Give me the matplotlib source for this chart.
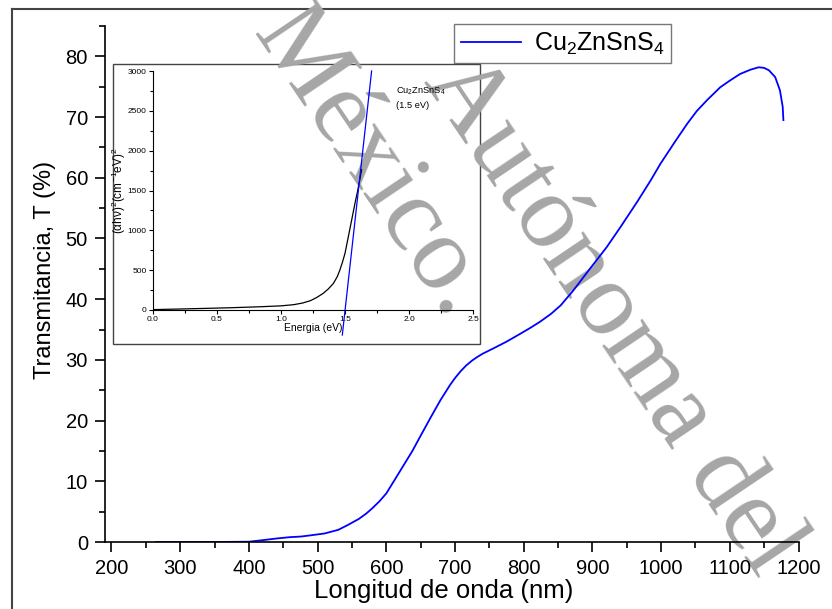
import matplotlib
matplotlib.use('Agg')
import matplotlib.pyplot as plt
from matplotlib.lines import Line2D
from matplotlib.patches import Rectangle
from matplotlib.ticker import MultipleLocator, FormatStrFormatter

plt.rcParams['font.family'] = ['Liberation Sans', 'DejaVu Sans']
plt.rcParams['font.serif'] = ['Liberation Serif', 'DejaVu Serif']
plt.rcParams['mathtext.fontset'] = 'custom'
plt.rcParams['mathtext.rm'] = 'Liberation Sans'
plt.rcParams['mathtext.it'] = 'Liberation Sans'

# transmittance spectrum
wavelength = [265, 300, 350, 400, 420, 442, 460, 476, 490, 510, 530, 544, 560, 571,
              580, 590, 600, 612, 625, 638, 649, 665, 679, 693, 700, 708, 716, 725, 732,
              740, 748, 756, 775, 795, 810, 824, 840, 854, 872, 897, 921, 941, 965, 985,
              999, 1020, 1038, 1052, 1067, 1086, 1100, 1115, 1130, 1142, 1150, 1157, 1166,
              1173, 1177, 1178]
transmit = [0, 0, 0, 0.05, 0.3, 0.6, 0.8, 0.9, 1.1, 1.4, 2.0, 2.8, 3.8, 4.7,
            5.6, 6.7, 8.0, 10.2, 12.6, 15.0, 17.3, 20.6, 23.4, 25.9, 27.0, 28.1, 29.05, 29.9, 30.45,
            31.0, 31.45, 31.9, 33.0, 34.3, 35.3, 36.3, 37.6, 39.0, 41.4, 45.1, 48.6, 51.9, 56.0, 59.6,
            62.3, 65.9, 68.9, 71.0, 72.8, 74.9, 76.0, 77.1, 77.8, 78.2, 78.1, 77.7, 76.6,
            74.4, 71.7, 69.5]

# Tauc plot for the inset
energy = [0.0, 0.2, 0.4, 0.6, 0.84, 1.0, 1.1, 1.17, 1.23, 1.28, 1.33, 1.37, 1.41, 1.44,
          1.46, 1.48, 1.50, 1.526, 1.552, 1.578, 1.60, 1.63]
tauc = [5, 12, 20, 28, 41, 52, 67, 88, 117, 158, 209, 265, 335, 420,
        502, 600, 711, 920, 1129, 1339, 1506, 1760]
fit_e = [1.479, 1.708]
fit_v = [-314, 3000]

W, H = 832, 609
fig = plt.figure(figsize=(W / 100, H / 100), dpi=100)

def fx(px):
    return px / W

def fy(py):
    return 1 - py / H

# page frame and inset frame
fig.add_artist(Line2D([fx(12), fx(12)], [fy(9), 0], color='#444444', lw=1.5, zorder=-3))
fig.add_artist(Line2D([fx(12), 1], [fy(9), fy(9)], color='#444444', lw=1.5, zorder=-3))
fig.add_artist(Rectangle((fx(113), fy(344)), fx(480) - fx(113), fy(64) - fy(344),
                         transform=fig.transFigure, fill=False, ec='#444444', lw=1.0,
                         zorder=-3))

# watermark
wm = dict(fontfamily='serif', fontsize=76, color='#a6a6a6',
          rotation=-56, rotation_mode='anchor', ha='left', va='baseline', zorder=-1)
fig.text(fx(252), fy(33), 'México.', **wm)
fig.text(fx(423), fy(81), 'Autónoma del', **wm)

# main axes
ax = fig.add_axes([fx(105.3), fy(542), fx(798.5) - fx(105.3), fy(26) - fy(542)])
ax.patch.set_visible(False)
ax.plot(wavelength, transmit, color='#0000ff', lw=1.3, label='Cu$_2$ZnSnS$_4$', zorder=2)
ax.set_xlim(191, 1200)
ax.set_ylim(0, 85)
ax.xaxis.set_major_locator(MultipleLocator(100))
ax.xaxis.set_minor_locator(MultipleLocator(50))
ax.yaxis.set_major_locator(MultipleLocator(10))
ax.yaxis.set_minor_locator(MultipleLocator(5))
for s in ['top', 'right']:
    ax.spines[s].set_visible(False)
for s in ['left', 'bottom']:
    ax.spines[s].set_linewidth(1.2)
ax.tick_params(which='major', direction='out', length=7, width=1.2, labelsize=14.5, pad=5.5)
ax.tick_params(which='minor', direction='out', length=4, width=1.2)
ax.set_xlabel('Longitud de onda (nm)', fontsize=18.5)
ax.set_ylabel('Transmitancia, T (%)', fontsize=17)
ax.xaxis.set_label_coords(0.4886, -0.072)
ax.yaxis.set_label_coords(-0.071, 0.528)
leg = ax.legend(loc='upper left', bbox_to_anchor=(fx(454.3), fy(24.3)),
                bbox_transform=fig.transFigure, fontsize=18, frameon=True, fancybox=False,
                edgecolor='#555555', borderaxespad=0, borderpad=0.25, handlelength=2.4,
                handletextpad=0.55)
leg.get_frame().set_linewidth(1.0)

# inset
ins = fig.add_axes([fx(153), fy(310), fx(473) - fx(153), fy(71) - fy(310)])
ins.patch.set_visible(False)
ins.plot(energy, tauc, color='black', lw=0.9)
ins.plot(fit_e, fit_v, color='#0000ff', lw=0.9, clip_on=False)
ins.set_xlim(0, 2.5)
ins.set_ylim(0, 3000)
ins.xaxis.set_major_locator(MultipleLocator(0.5))
ins.xaxis.set_minor_locator(MultipleLocator(0.25))
ins.yaxis.set_major_locator(MultipleLocator(500))
ins.yaxis.set_minor_locator(MultipleLocator(250))
ins.xaxis.set_major_formatter(FormatStrFormatter('%.1f'))
for s in ['top', 'right']:
    ins.spines[s].set_visible(False)
for s in ['left', 'bottom']:
    ins.spines[s].set_linewidth(0.8)
ins.tick_params(which='major', direction='out', length=3, width=0.8, labelsize=6, pad=1.5)
ins.tick_params(which='minor', direction='out', length=2, width=0.8)
ins.set_xlabel('Energia (eV)', fontsize=7.5, labelpad=0)
ins.set_ylabel(r'$(\alpha h\nu)^2(cm^{-1}eV)^2$', fontsize=8.5, labelpad=0)
ins.text(1.9, 2750, 'Cu$_2$ZnSnS$_4$', fontsize=6.7, va='center', ha='left')
ins.text(1.9, 2572, '(1.5 eV)', fontsize=6.7, va='center', ha='left')

fig.savefig('out.png', dpi=100)
